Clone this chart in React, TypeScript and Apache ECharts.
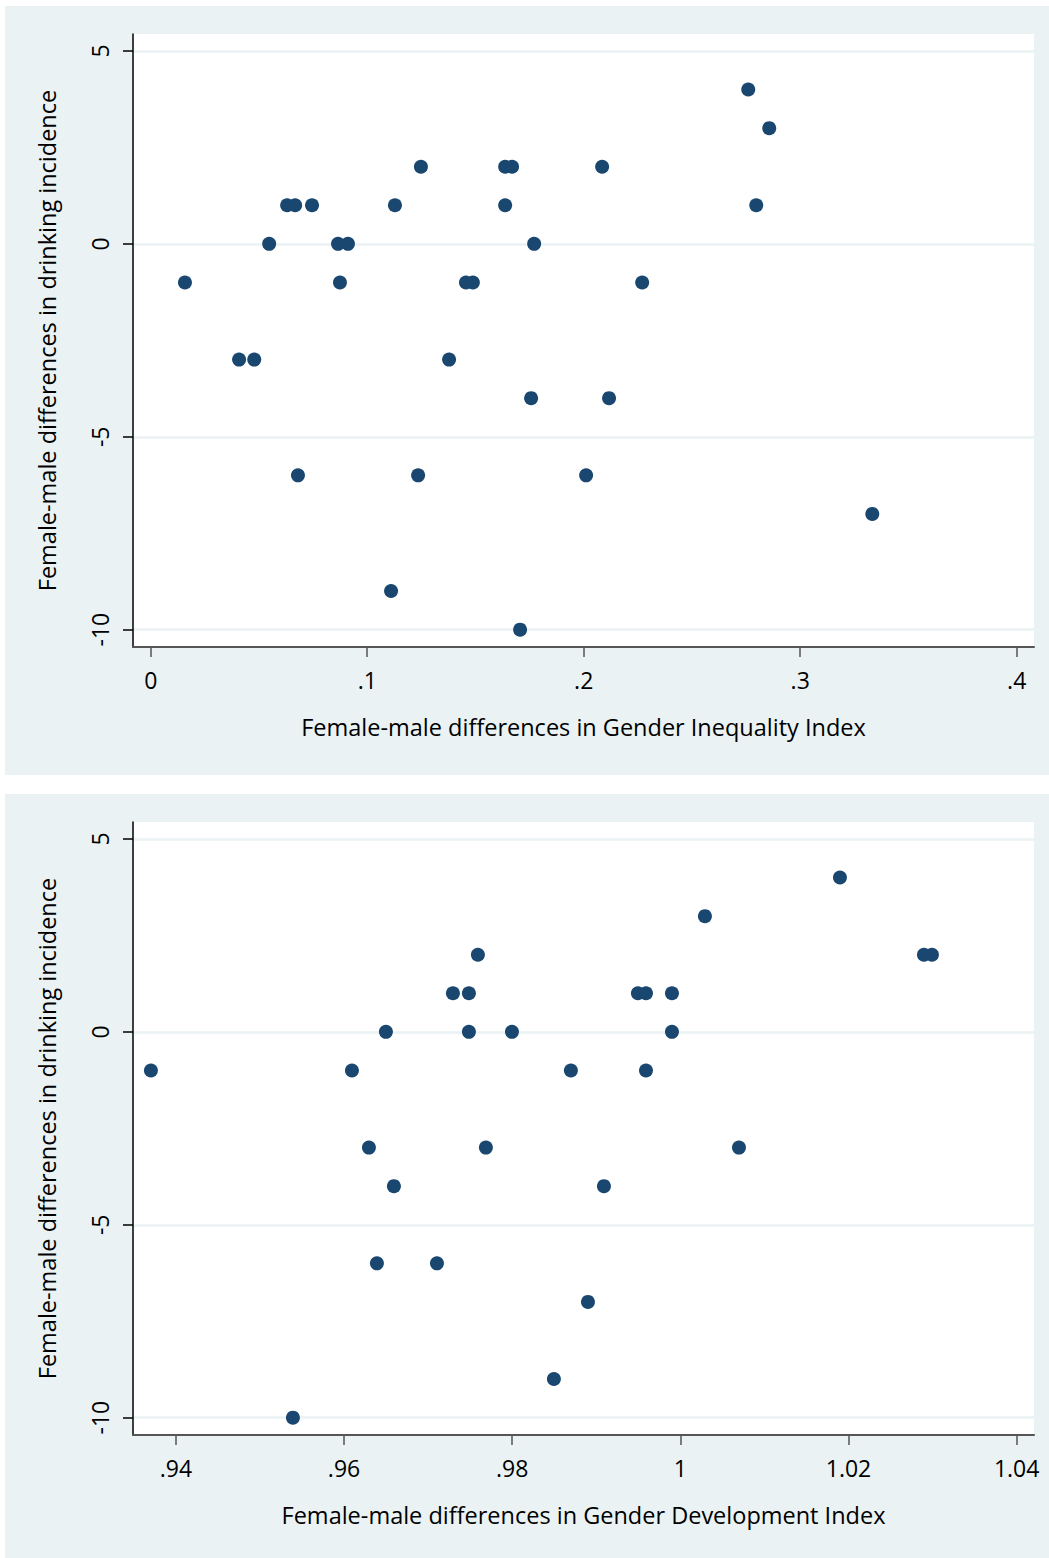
import React, { useEffect, useRef } from "react";
import * as echarts from "echarts";

const giiX = [0.0158, 0.0408, 0.0478, 0.0547, 0.063, 0.0667, 0.068, 0.0745, 0.0865, 0.0874, 0.0911, 0.111, 0.1128, 0.1235, 0.1248, 0.1378, 0.1456, 0.1488, 0.1637, 0.1669, 0.1637, 0.1706, 0.1757, 0.1771, 0.2011, 0.2085, 0.2117, 0.227, 0.276, 0.2797, 0.2857, 0.3333];
const giiY = [-1, -3, -3, 0, 1, 1, -6, 1, 0, -1, 0, -9, 1, -6, 2, -3, -1, -1, 2, 2, 1, -10, -4, 0, -6, 2, -4, -1, 4, 1, 3, -7];

const gdiX = [0.93703, 0.95392, 0.96094, 0.96296, 0.96391, 0.96498, 0.96593, 0.97105, 0.97295, 0.97485, 0.97485, 0.97592, 0.97687, 0.97997, 0.98496, 0.98698, 0.98901, 0.99091, 0.99495, 0.99591, 0.99591, 0.999, 0.999, 1.00292, 1.00697, 1.01898, 1.02897, 1.02992];
const gdiY = [-1, -10, -1, -3, -6, 0, -4, -6, 1, 1, 0, 2, -3, 0, -9, -1, -7, -4, 1, 1, -1, 1, 0, 3, -3, 4, 2, 2];

const yTicks = [-10, -5, 0, 5];
const giiTicks = [0, 0.1, 0.2, 0.3, 0.4];
const gdiTicks = [0.94, 0.96, 0.98, 1, 1.02, 1.04];

const yTitle = "Female-male differences in drinking incidence";
const giiTitle = "Female-male differences in Gender Inequality Index";
const gdiTitle = "Female-male differences in Gender Development Index";

const FONT = "Open Sans";
const BG = "#EAF2F3";
const NAVY = "#1A476F";

function fmt(v: number): string {
  const r = Math.round(v * 1000) / 1000;
  if (r === 0) return "0";
  let s = String(r);
  if (s.startsWith("0.")) s = s.slice(1);
  if (s.startsWith("-0.")) s = "-" + s.slice(2);
  return s;
}

export default function App() {
  const ref = useRef<HTMLDivElement>(null);
  useEffect(() => {
    if (!ref.current) return;
    const chart = echarts.init(ref.current, null, { renderer: "svg" });
    const yAxisBase = (gi: number) => ({
      type: "value",
      gridIndex: gi,
      min: -10.45,
      max: 5.44,
      interval: 5,
      name: yTitle,
      nameLocation: "middle",
      nameRotate: 90,
      nameGap: 74,
      nameTextStyle: { fontFamily: FONT, fontSize: 23.5, color: "#000" },
      axisLine: { show: true, onZero: false, lineStyle: { color: "#000", width: 1.5 } },
      axisTick: { show: true, length: 10, lineStyle: { color: "#000", width: 1.5 }, customValues: yTicks },
      axisLabel: {
        show: true,
        rotate: 90,
        margin: 22,
        fontFamily: FONT,
        fontSize: 23,
        color: "#000",
        customValues: yTicks,
        formatter: (v: number) => fmt(v),
      },
      splitLine: { show: true, lineStyle: { color: BG, width: 2.5 } },
    });
    const xAxisBase = (gi: number, min: number, max: number, ticks: number[], name: string) => ({
      type: "value",
      gridIndex: gi,
      min,
      max,
      name,
      nameLocation: "middle",
      nameGap: 68,
      nameTextStyle: { fontFamily: FONT, fontSize: 23.5, color: "#000" },
      axisLine: { show: true, onZero: false, lineStyle: { color: "#555", width: 2 } },
      axisTick: { show: true, length: 10, lineStyle: { color: "#555", width: 1.5 }, customValues: ticks },
      axisLabel: {
        show: true,
        margin: 21,
        fontFamily: FONT,
        fontSize: 23,
        color: "#000",
        customValues: ticks,
        formatter: (v: number) => fmt(v),
      },
      splitLine: { show: false },
    });
    chart.setOption({
      animation: false,
      graphic: [
        { type: "rect", shape: { x: 5, y: 6, width: 1044, height: 769 }, style: { fill: BG }, z: -10, silent: true },
        { type: "rect", shape: { x: 5, y: 794, width: 1044, height: 764 }, style: { fill: BG }, z: -10, silent: true },
        { type: "rect", shape: { x: 133, y: 34, width: 901, height: 613 }, style: { fill: "#fff" }, z: -9, silent: true },
        { type: "rect", shape: { x: 133, y: 822, width: 901, height: 613 }, style: { fill: "#fff" }, z: -9, silent: true },
      ],
      grid: [
        { left: 133, top: 34, width: 901, height: 613, containLabel: false },
        { left: 133, top: 822, width: 901, height: 613, containLabel: false },
      ],
      xAxis: [
        xAxisBase(0, -0.0082, 0.408, giiTicks, giiTitle),
        xAxisBase(1, 0.9349, 1.04206, gdiTicks, gdiTitle),
      ],
      yAxis: [yAxisBase(0), yAxisBase(1)],
      series: [
        {
          type: "scatter",
          xAxisIndex: 0,
          yAxisIndex: 0,
          symbol: "circle",
          symbolSize: 14,
          itemStyle: { color: NAVY, opacity: 1 },
          data: giiX.map((x, i) => [x, giiY[i]]),
        },
        {
          type: "scatter",
          xAxisIndex: 1,
          yAxisIndex: 1,
          symbol: "circle",
          symbolSize: 14,
          itemStyle: { color: NAVY, opacity: 1 },
          data: gdiX.map((x, i) => [x, gdiY[i]]),
        },
      ],
    });
    return () => chart.dispose();
  }, []);
  return (
    <div
      ref={ref}
      style={{ position: "absolute", left: 0, top: 0, width: 1049, height: 1558 }}
    />
  );
}
